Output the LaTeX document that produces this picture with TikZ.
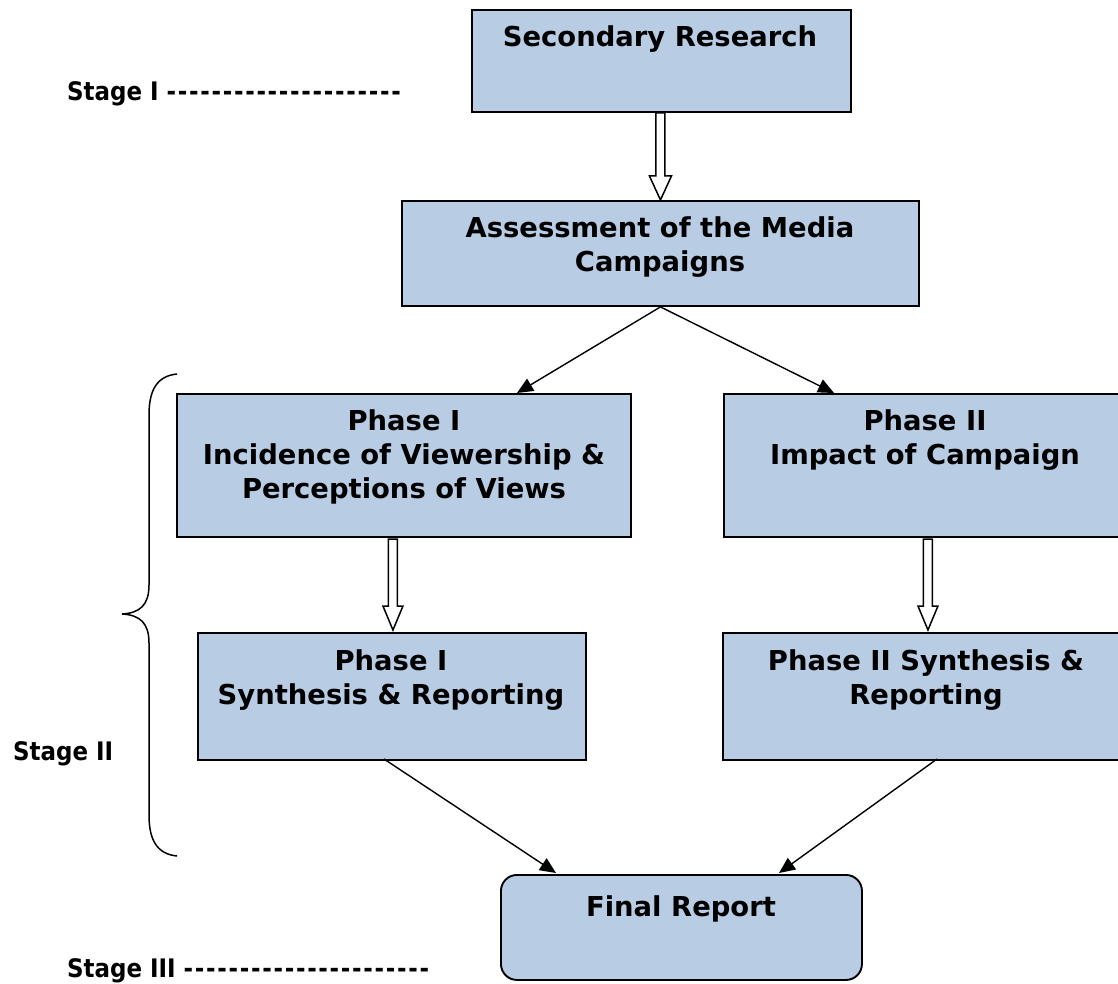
\documentclass[tikz,border=0pt]{standalone}
\usepackage{fontspec}
\newfontfamily\boxfont{DejaVu Sans}
\newfontfamily\stagefont{DejaVu Sans Condensed}
\usetikzlibrary{arrows.meta,calc}
\definecolor{boxblue}{HTML}{B8CCE4}
\newcommand\hyphens[1]{\foreach \i in {1,...,#1}{-\kern1.7pt}}
\tikzset{
  box/.style={draw=black, line width=1.9pt, fill=boxblue, anchor=north west, inner sep=0pt},
  txt/.style={font=\boxfont\bfseries\fontsize{27.4}{34}\selectfont, align=center, anchor=north, inner sep=0pt},
  stagetxt/.style={font=\stagefont\bfseries\fontsize{25.5}{28}\selectfont, anchor=west, inner sep=0pt},
  conn/.style={line width=1.4pt, -{Triangle[length=16pt,width=14pt]}},
  hollow/.style={draw=black, line width=1.5pt, fill=white, line join=miter},
}
\begin{document}
\begin{tikzpicture}[x=1pt,y=-1pt]
\useasboundingbox (0,0) rectangle (1118,984);
\clip (0,0) rectangle (1118,984);

% boxes
\node[box, minimum width=379pt, minimum height=102pt] (sec) at (471,9) {};
\node[box, minimum width=517pt, minimum height=105pt] (ass) at (401,200) {};
\node[box, minimum width=454pt, minimum height=143pt] (p1) at (176,393) {};
\node[box, minimum width=400pt, minimum height=143pt] (p2) at (723,393) {};
\node[box, minimum width=388pt, minimum height=127pt] (s1) at (197,632) {};
\node[box, minimum width=400pt, minimum height=127pt] (s2) at (722,632) {};
\node[box, rounded corners=16pt, minimum width=361pt, minimum height=105pt] (fin) at (500,874) {};

% texts
\node[txt] (tsec) at (660,25) {Secondary Research};
\node[txt] (tass) at (660,216) {Assessment of the Media\\Campaigns};
\node[txt] (tp1) at (404,409) {Phase I\\Incidence of Viewership \&\\Perceptions of Views};
\node[txt] (tp2) at (925,409) {Phase II\\Impact of Campaign};
\node[txt] (ts1) at (391,649) {Phase I\\Synthesis \& Reporting};
\node[txt] (ts2) at (926,649) {Phase II Synthesis \&\\Reporting};
\node[txt] (tfin) at (681,895) {Final Report};

% stage labels
\node[stagetxt] (st1) at (67,94) {Stage I \hyphens{21}};
\node[stagetxt] (st2) at (13,754) {Stage II};
\node[stagetxt] (st3) at (67,971) {Stage III \hyphens{22}};

% hollow block arrows
\draw[hollow] let \p1=($(sec.south)+(-1,0)$), \p2=($(ass.north)+(-1,0)$) in
  ({\x1-4.5pt},\y1) -- ({\x1-4.5pt},{\y2+24pt}) -- ({\x1-11pt},{\y2+24pt}) -- (\x1,\y2)
  -- ({\x1+11pt},{\y2+24pt}) -- ({\x1+4.5pt},{\y2+24pt}) -- ({\x1+4.5pt},\y1) -- cycle;
\draw[hollow] let \p1=($(s1.north)+(1,-93)$), \p2=($(s1.north)+(1,-2)$) in
  ({\x1-4.5pt},\y1) -- ({\x1-4.5pt},{\y2+24pt}) -- ({\x1-10pt},{\y2+24pt}) -- (\x1,\y2)
  -- ({\x1+10pt},{\y2+24pt}) -- ({\x1+4.5pt},{\y2+24pt}) -- ({\x1+4.5pt},\y1) -- cycle;
\draw[hollow] let \p1=($(s2.north)+(5,-93)$), \p2=($(s2.north)+(5,-2)$) in
  ({\x1-4.5pt},\y1) -- ({\x1-4.5pt},{\y2+24pt}) -- ({\x1-10pt},{\y2+24pt}) -- (\x1,\y2)
  -- ({\x1+10pt},{\y2+24pt}) -- ({\x1+4.5pt},{\y2+24pt}) -- ({\x1+4.5pt},\y1) -- cycle;

% thin arrows
\coordinate (p1in) at (517,393);
\coordinate (p2in) at (834,393);
\coordinate (s1out) at (384,759);
\coordinate (s2out) at (937,759);
\coordinate (fin1) at (556,873);
\coordinate (fin2) at (779,873);
\draw[conn] (ass.south) -- (p1in);
\draw[conn] (ass.south) -- (p2in);
\draw[conn] (s1out) -- (fin1);
\draw[conn] (s2out) -- (fin2);

% brace
\draw[line width=1.5pt] (177,374) .. controls (157,376) and (149,390) .. (149,415)
  -- (149,585) .. controls (149,605) and (140,613) .. (122,614)
  .. controls (140,615) and (149,623) .. (149,643)
  -- (149,815) .. controls (149,840) and (157,854) .. (177,856);
\end{tikzpicture}
\end{document}
